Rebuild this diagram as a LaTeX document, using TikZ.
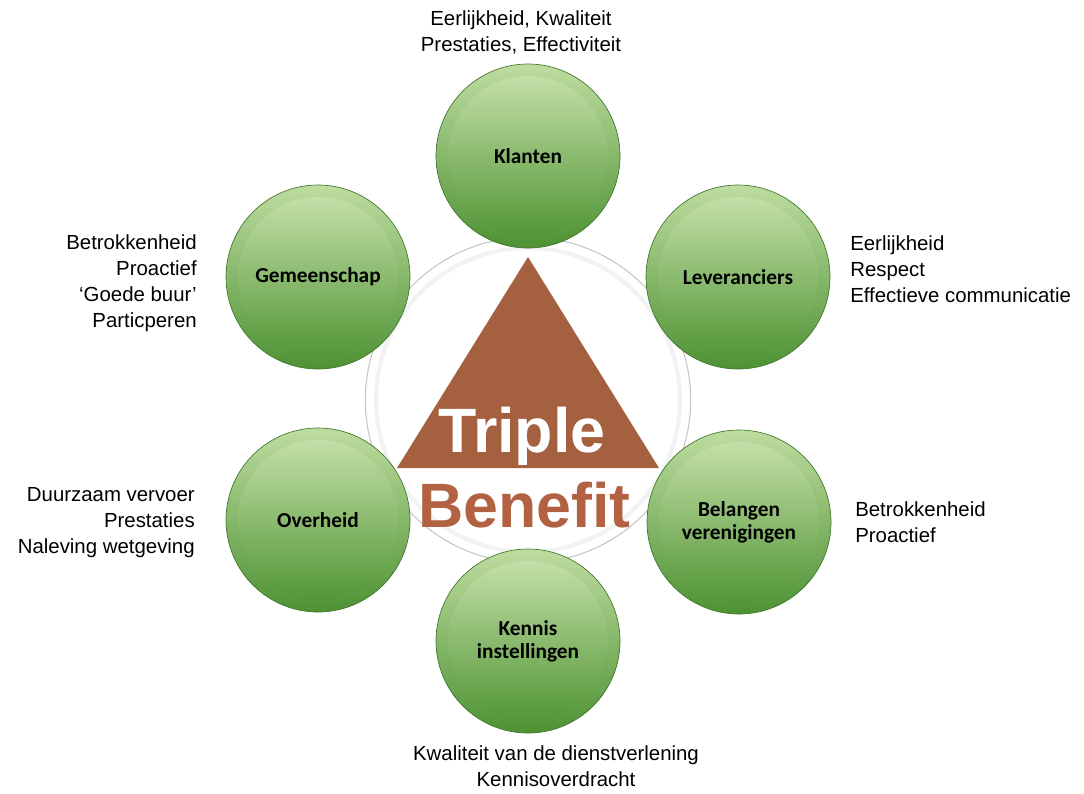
\documentclass[tikz,border=0pt]{standalone}
\usepackage{fontspec}
\setmainfont{Liberation Sans}
\newfontfamily\knopfont{Carlito}
\definecolor{bruin}{RGB}{165,96,64}
\definecolor{bruinvaag}{RGB}{178,98,66}
\definecolor{randlicht}{RGB}{190,220,160}
\definecolor{randdonker}{RGB}{78,146,52}
\definecolor{bollicht}{RGB}{204,228,176}
\definecolor{boldonker}{RGB}{74,145,46}
\tikzset{bol/.style={
    circle, minimum size=138pt, inner sep=0pt,
    draw=randdonker!80!black, line width=0.5pt,
    top color=randlicht, bottom color=randdonker,
    path picture={\shade[top color=bollicht, bottom color=boldonker]
      (path picture bounding box.center) circle (60pt);},
    font=\knopfont\bfseries\fontsize{16}{17.5}\selectfont, align=center,
}}
\tikzset{waarden/.style={
    inner sep=0pt, font=\fontsize{15.3}{19.5}\selectfont,
}}

\begin{document}
\begin{tikzpicture}[x=0.75pt,y=-0.75pt]
\useasboundingbox (0,0) rectangle (1084,793);
\node[name=kern,shape=circle,minimum size=244pt,draw=gray!45,fill=white,line width=0.8pt] at (528,400) {};
\draw[gray!10,line width=3pt] (kern.center) circle (114pt);
\fill[bruin] (528,257) -- (397,468) -- (659,468) -- cycle;
\node[name=triple,anchor=base west,inner sep=0pt,text=white,font=\bfseries\fontsize{47}{47}\selectfont] at (438,452) {Triple};
\node[name=benefit,anchor=base west,inner sep=0pt,text=bruinvaag,font=\bfseries\fontsize{47}{47}\selectfont] at (418,527) {Benefit};
\foreach \naam/\plek/\tekst in
  {klanten/{(528,156)}/Klanten, leveranciers/{(738,277)}/Leveranciers,
   belangen/{(739,522)}/{Belangen\\verenigingen}, kennis/{(528,641)}/{Kennis\\instellingen},
   overheid/{(318,520)}/Overheid, gemeenschap/{(318,277)}/Gemeenschap}
    \node[bol,name=\naam] at \plek {\tekst};
\foreach \naam/\plek/\anker/\lijn/\tekst in
  {klantenw/{(521,32)}/center/center/{Eerlijkheid, Kwaliteit\\Prestaties, Effectiviteit},
   leveranciersw/{(850,269)}/west/left/{Eerlijkheid\\Respect\\Effectieve communicatie},
   belangenw/{(855,522)}/west/left/{Betrokkenheid\\Proactief},
   kennisw/{(556,766)}/center/center/{Kwaliteit van de dienstverlening\\Kennisoverdracht},
   overheidw/{(195,523)}/east/right/{Duurzaam vervoer\\Prestaties\\Naleving wetgeving},
   gemeenschapw/{(197,283)}/east/right/{Betrokkenheid\\Proactief\\‘Goede buur’\\Particperen}}
    \node[waarden,name=\naam,anchor=\anker,align=\lijn] at \plek {\tekst};
\end{tikzpicture}
\end{document}
